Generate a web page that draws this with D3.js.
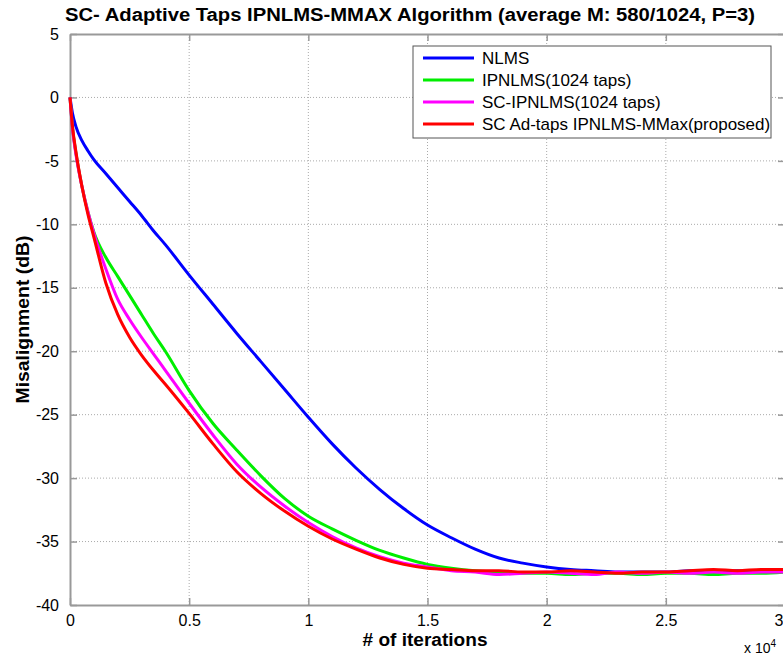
<!DOCTYPE html>
<html>
<head>
<meta charset="utf-8">
<script src="https://cdn.jsdelivr.net/npm/d3@7"></script>
<style>
  body { margin: 0; background: #fff; }
  text { font-family: "Liberation Sans", Arial, sans-serif; fill: #000; }
</style>
</head>
<body>
<svg id="canvas" width="783" height="657"></svg>
<script>
// iterations in units of 10^4
const iterations = [0, 0.01, 0.025, 0.05, 0.075, 0.1, 0.15, 0.2, 0.25, 0.3, 0.35, 0.4, 0.5, 0.6, 0.7, 0.8, 0.9, 1.0,
  1.1, 1.2, 1.3, 1.4, 1.5, 1.6, 1.7, 1.8, 1.9, 2.0, 2.1, 2.2, 2.3, 2.4, 2.5, 2.6, 2.7, 2.8, 2.9, 3.0];

const nlms = [0, -1.2, -2.3, -3.4, -4.2, -4.9, -6.0, -7.1, -8.2, -9.3, -10.5, -11.6, -14.0, -16.3, -18.6, -20.8, -23.0, -25.2,
  -27.3, -29.2, -30.9, -32.4, -33.7, -34.7, -35.6, -36.3, -36.7, -37.0, -37.2, -37.3, -37.4, -37.4, -37.4, -37.3, -37.4, -37.3, -37.4, -37.3];
const ipnlms = [0, -2.3, -4.4, -7.0, -9.0, -10.6, -12.6, -14.1, -15.6, -17.1, -18.6, -20.0, -23.1, -25.7, -27.8, -29.8, -31.6, -33.0,
  -34.0, -34.9, -35.7, -36.3, -36.8, -37.1, -37.3, -37.4, -37.5, -37.5, -37.6, -37.5, -37.5, -37.6, -37.5, -37.5, -37.6, -37.5, -37.5, -37.4];
const scIpnlms = [0, -2.4, -4.5, -7.0, -9.0, -10.7, -13.5, -15.9, -17.5, -18.9, -20.2, -21.5, -24.1, -26.6, -28.9, -30.7, -32.2, -33.5,
  -34.6, -35.5, -36.2, -36.7, -37.0, -37.3, -37.4, -37.6, -37.5, -37.4, -37.5, -37.6, -37.4, -37.5, -37.4, -37.5, -37.4, -37.5, -37.4, -37.4];
const scAdTaps = [0, -2.2, -4.3, -7.0, -9.2, -11.0, -14.6, -17.1, -18.9, -20.3, -21.5, -22.6, -24.9, -27.3, -29.5, -31.2, -32.6, -33.8,
  -34.8, -35.6, -36.3, -36.8, -37.1, -37.2, -37.3, -37.3, -37.4, -37.4, -37.3, -37.4, -37.5, -37.4, -37.4, -37.3, -37.2, -37.3, -37.2, -37.2];

const seriesNames = ['NLMS', 'IPNLMS(1024 taps)', 'SC-IPNLMS(1024 taps)', 'SC Ad-taps IPNLMS-MMax(proposed)'];
const seriesValues = [nlms, ipnlms, scIpnlms, scAdTaps];
const seriesColors = ['#0000ff', '#00ee00', '#ff00ff', '#ff0000'];

const xTicks = [0, 0.5, 1, 1.5, 2, 2.5, 3];
const yTicks = [5, 0, -5, -10, -15, -20, -25, -30, -35, -40];

const svg = d3.select('#canvas');
const plotLeft = 70, plotRight = 785, plotTop = 34, plotBottom = 605;

const x = d3.scaleLinear().domain([0, 3]).range([plotLeft, plotRight]);
const y = d3.scaleLinear().domain([-40, 5]).range([plotBottom, plotTop]);

// grid
svg.append('g').selectAll('line')
  .data(xTicks.slice(1, -1))
  .enter().append('line')
  .attr('x1', d => x(d)).attr('x2', d => x(d))
  .attr('y1', plotTop).attr('y2', plotBottom)
  .attr('stroke', '#aaa').attr('stroke-width', 1).attr('stroke-dasharray', '1,2');
svg.append('g').selectAll('line')
  .data(yTicks.slice(1, -1))
  .enter().append('line')
  .attr('x1', plotLeft).attr('x2', plotRight)
  .attr('y1', d => y(d)).attr('y2', d => y(d))
  .attr('stroke', '#aaa').attr('stroke-width', 1).attr('stroke-dasharray', '1,2');

// axes (matlab style, ticks inside), plain hyphen minus signs
const fmt = d => String(d);
const axisColor = '#999';
const xBottom = svg.append('g').attr('transform', `translate(0,${plotBottom})`)
  .call(d3.axisBottom(x).tickValues(xTicks).tickFormat(fmt).tickSizeInner(-7).tickSizeOuter(0).tickPadding(10));
const xTop = svg.append('g').attr('transform', `translate(0,${plotTop})`)
  .call(d3.axisTop(x).tickValues(xTicks).tickFormat('').tickSizeInner(-7).tickSizeOuter(0));
const yLeft = svg.append('g').attr('transform', `translate(${plotLeft},0)`)
  .call(d3.axisLeft(y).tickValues(yTicks).tickFormat(fmt).tickSizeInner(-7).tickSizeOuter(0).tickPadding(11));
const yRight = svg.append('g').attr('transform', `translate(${plotRight},0)`)
  .call(d3.axisRight(y).tickValues(yTicks).tickFormat('').tickSizeInner(-7).tickSizeOuter(0));

[xBottom, xTop, yLeft, yRight].forEach(g => {
  g.select('.domain').attr('stroke', axisColor).attr('stroke-width', 2);
  g.selectAll('.tick line').attr('stroke', axisColor).attr('stroke-width', 1.5);
  g.selectAll('.tick text').attr('font-size', 16).attr('fill', '#000')
    .attr('font-family', '"Liberation Sans", Arial, sans-serif');
});
// last x label sits on the window edge; keep it inside
xBottom.selectAll('.tick text').filter(d => d === 3)
  .attr('text-anchor', 'end').attr('dx', 783 - x(3));

// curves
const line = d3.line()
  .x((d, i) => x(iterations[i]))
  .y(d => y(d))
  .curve(d3.curveMonotoneX);

svg.append('g').selectAll('path')
  .data(seriesValues)
  .enter().append('path')
  .attr('d', d => line(d))
  .attr('fill', 'none')
  .attr('stroke', (d, i) => seriesColors[i])
  .attr('stroke-width', 3);

// legend
const legend = svg.append('g');
legend.append('rect')
  .attr('x', 413).attr('y', 46).attr('width', 358).attr('height', 92)
  .attr('fill', '#fff').attr('stroke', '#555').attr('stroke-width', 1);
const item = legend.selectAll('g.item')
  .data(seriesNames)
  .enter().append('g')
  .attr('class', 'item')
  .attr('transform', (d, i) => `translate(423,${58 + i * 22})`);
item.append('line')
  .attr('x1', 0).attr('x2', 51)
  .attr('stroke', (d, i) => seriesColors[i]).attr('stroke-width', 3);
item.append('text')
  .attr('x', 59).attr('y', 6)
  .attr('font-size', 17)
  .text(d => d);

// titles
svg.append('text')
  .attr('x', 410).attr('y', 21)
  .attr('text-anchor', 'middle')
  .attr('font-size', 18).attr('font-weight', 'bold')
  .attr('textLength', 690).attr('lengthAdjust', 'spacingAndGlyphs')
  .text('SC- Adaptive Taps IPNLMS-MMAX Algorithm (average M: 580/1024, P=3)');

svg.append('text')
  .attr('x', 425).attr('y', 646)
  .attr('text-anchor', 'middle')
  .attr('font-size', 18).attr('font-weight', 'bold')
  .attr('textLength', 125).attr('lengthAdjust', 'spacingAndGlyphs')
  .text('# of iterations');

svg.append('text')
  .attr('transform', `translate(29,${(plotTop + plotBottom) / 2}) rotate(-90)`)
  .attr('text-anchor', 'middle')
  .attr('font-size', 18).attr('font-weight', 'bold')
  .attr('textLength', 168).attr('lengthAdjust', 'spacingAndGlyphs')
  .text('Misalignment (dB)');

const mult = svg.append('text').attr('x', 744).attr('y', 653).attr('font-size', 14);
mult.append('tspan').text('x 10');
mult.append('tspan').attr('dy', -6).attr('font-size', 10).text('4');
</script>
</body>
</html>
